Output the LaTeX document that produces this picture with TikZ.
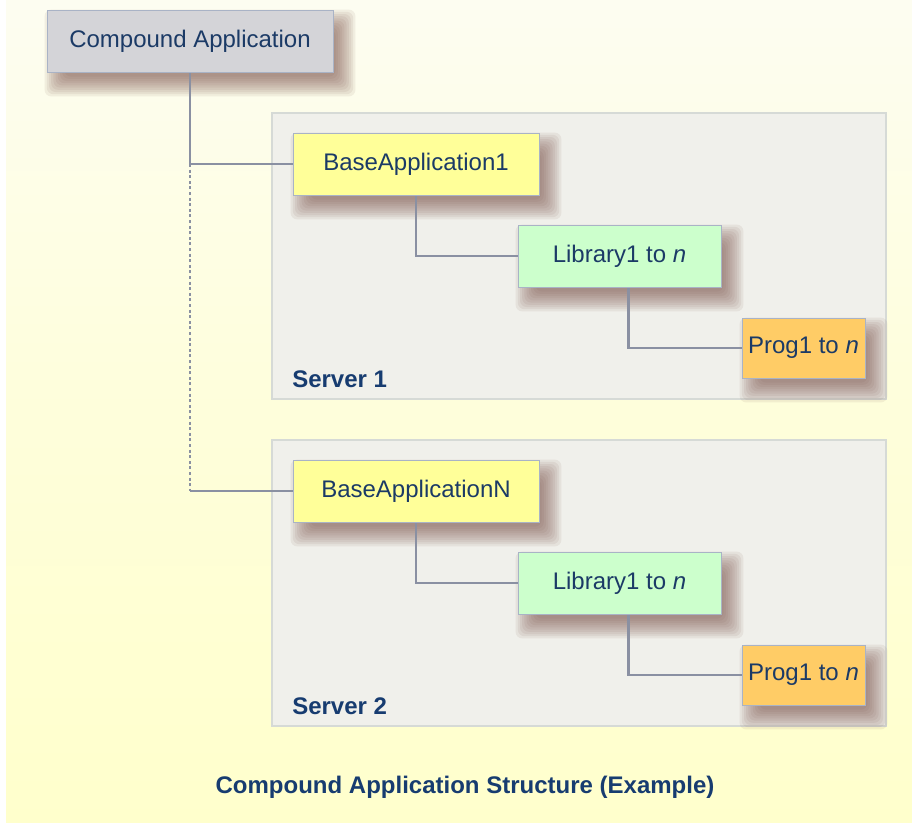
\documentclass[tikz,border=0pt]{standalone}
\usepackage{fontspec}
\setmainfont{Liberation Sans}
\usetikzlibrary{calc}
\definecolor{txt}{HTML}{1B3A66}
\definecolor{lbl}{HTML}{173C70}
\definecolor{gbox}{HTML}{D4D4D8}
\definecolor{ybox}{HTML}{FFFF99}
\definecolor{grbox}{HTML}{CCFFCC}
\definecolor{obox}{HTML}{FFCC66}
\definecolor{srv}{HTML}{F0F0EB}
\definecolor{srvline}{HTML}{D6DAD6}
\definecolor{edge}{HTML}{A9B3C6}
\definecolor{conn}{HTML}{8A90A2}
\definecolor{shad}{HTML}{7A5048}
\definecolor{bgtop}{HTML}{FDFDF1}
\definecolor{bgbot}{HTML}{FFFFCC}
\pgfdeclarelayer{shadowlayer}
\pgfsetlayers{shadowlayer,main}
\tikzset{
  box/.style={draw=edge, line width=0.6pt, inner sep=0pt, text=txt,
    font=\fontsize{18}{20}\selectfont},
  compbox/.style={box, fill=gbox, minimum width=214.5pt, minimum height=46.5pt},
  basebox/.style={box, fill=ybox, minimum width=184.5pt, minimum height=46.5pt},
  libbox/.style={box, fill=grbox, minimum width=152.25pt, minimum height=46.5pt},
  progbox/.style={box, fill=obox, minimum width=92.25pt, minimum height=45pt},
  server/.style={draw=srvline, line width=0.8pt, fill=srv},
  srvlabel/.style={anchor=west, inner sep=0pt, text=lbl, font=\fontsize{18}{20}\selectfont\bfseries},
  conline/.style={draw=conn, line width=2.2pt},
  shadowpiece/.style={fill=shad, opacity=0.085, rounded corners=5pt},
}
\newcommand{\softshadow}[1]{%
  \foreach \shi in {0,...,9}{%
    \pgfmathsetmacro{\shs}{12-2.2*\shi}%
    \fill[shadowpiece] ($(#1.north west)+(10-\shs,12-\shs)$) rectangle ($(#1.south east)+(10+\shs,12+\shs)$);
  }%
}
\begin{document}
\begin{tikzpicture}[x=0.75pt, y=-0.75pt]
\begin{pgfonlayer}{shadowlayer}
\useasboundingbox (0,0) rectangle (912,822);
\fill[white] (0,0) rectangle (912,822);
\shade[top color=bgtop, bottom color=bgbot, middle color=bgbot!60!bgtop] (6,0) rectangle (912,822);
% server containers
\path[server] (272,113) rectangle (886,399);
\path[server] (272,440) rectangle (886,726);
\end{pgfonlayer}
\node[srvlabel] (s1) at (292,379) {Server 1};
\node[srvlabel] (s2) at (292,706) {Server 2};

% nodes
\node[compbox] (comp) at (190,41) {Compound Application};
\node[basebox] (ba1) at (416,164) {BaseApplication1};
\node[libbox] (lib1) at (619.5,256) {Library1 to \textit{n}};
\node[progbox] (prog1) at (803.5,348) {Prog1 to \textit{n}};
\node[basebox] (baN) at (416,491) {BaseApplicationN};
\node[libbox] (lib2) at (619.5,583) {Library1 to \textit{n}};
\node[progbox] (prog2) at (803.5,675) {Prog1 to \textit{n}};

\begin{pgfonlayer}{shadowlayer}
\softshadow{comp}
\softshadow{ba1}
\softshadow{lib1}
\softshadow{prog1}
\softshadow{baN}
\softshadow{lib2}
\softshadow{prog2}
% connectors
\coordinate (j1) at (comp.south |- ba1.west);
\coordinate (j2) at (comp.south |- baN.west);
\draw[conline] (comp.south) -- (j1) -- (ba1.west);
\draw[conn, line width=2.2pt, dash pattern=on 2.2pt off 2pt] (j1) -- (j2);
\draw[conline] (j2) -- (baN.west);
\draw[conline] (ba1.south) |- (lib1.west);
\draw[conline] ([xshift=6.4pt]lib1.south) |- (prog1.west);
\draw[conline] (baN.south) |- (lib2.west);
\draw[conline] ([xshift=6.4pt]lib2.south) |- (prog2.west);
\end{pgfonlayer}

% caption
\node[text=lbl, font=\fontsize{18}{20}\selectfont\bfseries, inner sep=0pt] (cap) at (465,787) {Compound Application Structure (Example)};
\end{tikzpicture}
\end{document}
